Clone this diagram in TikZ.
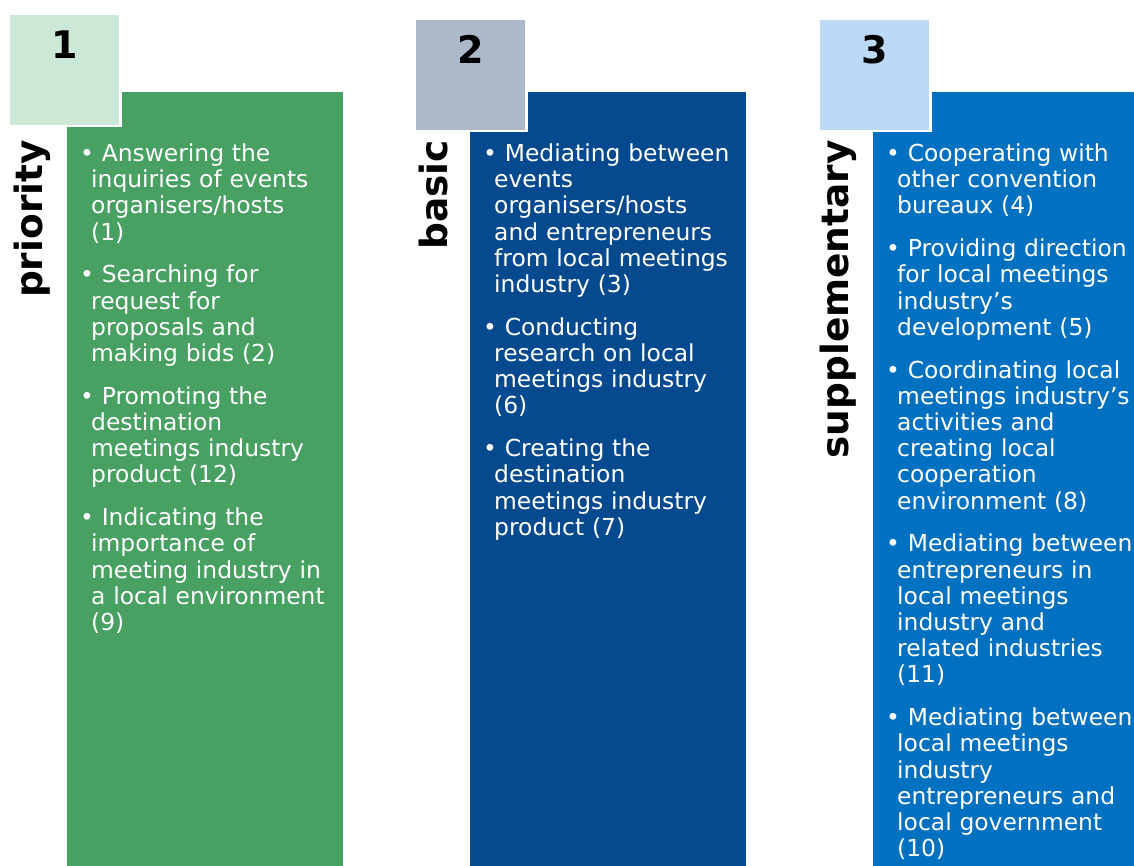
\documentclass[tikz,border=0pt]{standalone}
\usepackage{fontspec}
\setmainfont{DejaVu Sans}
\usetikzlibrary{positioning}

\definecolor{prioGreen}{HTML}{48A062}
\definecolor{prioLight}{HTML}{CCE8D7}
\definecolor{basicBlue}{HTML}{054A8F}
\definecolor{basicLight}{HTML}{ADB9CA}
\definecolor{suppBlue}{HTML}{0070C0}
\definecolor{suppLight}{HTML}{BDD9F8}

\tikzset{
  colbox/.style={inner sep=0pt, anchor=north west, minimum height=774pt},
  numbox/.style={draw=white, line width=2.5pt, inner sep=0pt, anchor=north west,
    minimum width=112pt, minimum height=112pt},
  numtext/.style={font=\fontsize{38}{40}\selectfont\bfseries},
  sidelabel/.style={rotate=90, anchor=base east, inner sep=0pt,
    font=\fontsize{37.5}{40}\selectfont\bfseries},
  itemlist/.style={text=white, anchor=north west, inner sep=0pt, align=left,
    text width=260pt, font=\fontsize{23.4}{26.2}\selectfont,
    execute at begin node={\setlength{\parskip}{16.6pt}}},
}
\newcommand{\bitem}[1]{\hangindent=11pt\hangafter=1\noindent\textbullet\ #1\par}

\begin{document}
\begin{tikzpicture}[x=1pt,y=-1pt]
  \useasboundingbox (0,0) rectangle (1134,866);
  % columns and number squares
  \foreach \sx/\sy/\rx/\rw/\sc/\rc/\n in {7/13/67/276/prioLight/prioGreen/1,
      413/18/470/276/basicLight/basicBlue/2, 817/18/873/261/suppLight/suppBlue/3}
  {
    \node[colbox, fill=\rc, minimum width=\rw pt] (col\n) at (\rx,92) {};
    \node[numbox, fill=\sc] (sq\n) at (\sx,\sy) {};
    \node[numtext, below=14pt of sq\n.north] (num\n) {\n};
  }

  \node[sidelabel] (lab1) at (42,140) {priority};
  \node[sidelabel] (lab2) at (447,140) {basic};
  \node[sidelabel] (lab3) at (848,140) {supplementary};

  \node[itemlist] (list1) at (80,143.5) {%
    \bitem{Answering the\newline inquiries of events\newline organisers/hosts\newline (1)}
    \bitem{Searching for\newline request for\newline proposals and\newline making bids (2)}
    \bitem{Promoting the\newline destination\newline meetings industry\newline product (12)}
    \bitem{Indicating the\newline importance of\newline meeting industry in\newline a local environment\newline (9)}};

  \node[itemlist] (list2) at (483,143.5) {%
    \bitem{Mediating between\newline events\newline organisers/hosts\newline and entrepreneurs\newline from local meetings\newline industry (3)}
    \bitem{Conducting\newline research on local\newline meetings industry\newline (6)}
    \bitem{Creating the\newline destination\newline meetings industry\newline product (7)}};

  \node[itemlist] (list3) at (886,143.5) {%
    \bitem{Cooperating with\newline other convention\newline bureaux (4)}
    \bitem{Providing direction\newline for local meetings\newline industry’s\newline development (5)}
    \bitem{Coordinating local\newline meetings industry’s\newline activities and\newline creating local\newline cooperation\newline environment (8)}
    \bitem{Mediating between\newline entrepreneurs in\newline local meetings\newline industry and\newline related industries\newline (11)}
    \bitem{Mediating between\newline local meetings\newline industry\newline entrepreneurs and\newline local government\newline (10)}};
\end{tikzpicture}
\end{document}
